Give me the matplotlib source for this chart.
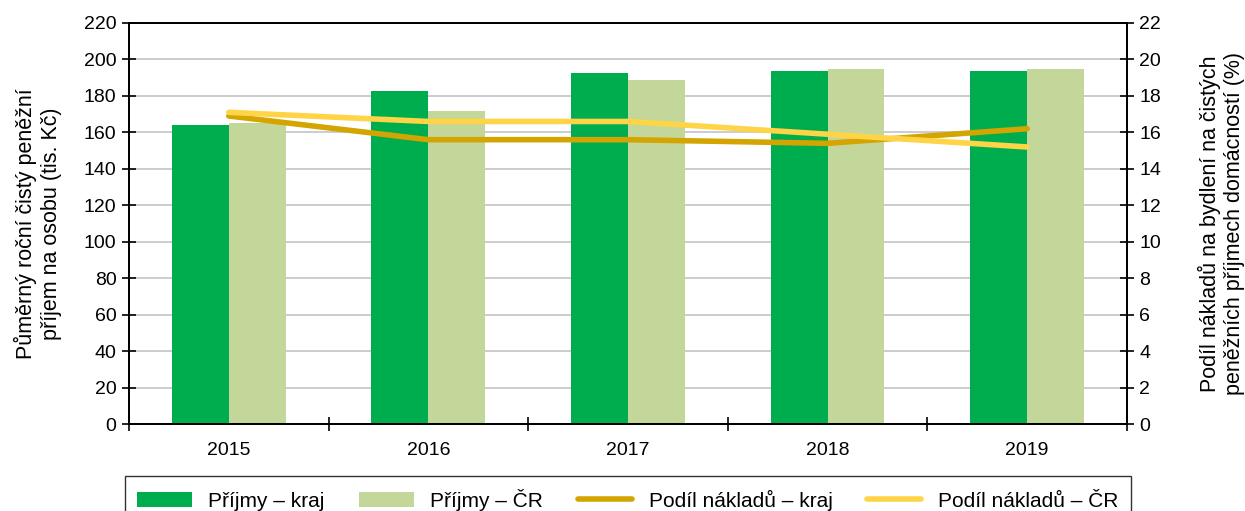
import numpy as np
import matplotlib.pyplot as plt

plt.rcParams['font.family'] = ['Liberation Sans', 'DejaVu Sans']

years = ['2015', '2016', '2017', '2018', '2019']
prijmy_kraj = [164.0, 182.7, 192.5, 193.6, 193.6]
prijmy_cr = [165.0, 172.0, 188.7, 194.7, 194.7]
podil_kraj = [16.9, 15.6, 15.6, 15.4, 16.2]
podil_cr = [17.1, 16.6, 16.6, 15.9, 15.2]

c_kraj = '#00ad4e'
c_cr = '#c4d79b'
l_kraj = '#d4a500'
l_cr = '#ffd446'

fig = plt.figure(figsize=(12.45, 5.11), dpi=100)
ax = fig.add_axes([0.1036, 0.170, 0.8016, 0.785])
x = np.arange(len(years))
w = 0.285

ax.bar(x - w / 2, prijmy_kraj, w, color=c_kraj, label='Příjmy – kraj', zorder=2)
ax.bar(x + w / 2, prijmy_cr, w, color=c_cr, label='Příjmy – ČR', zorder=2)
ax.set_ylim(0, 220)
ax.set_yticks(range(0, 221, 20))
ax.set_xlim(-0.5, len(years) - 0.5)
ax.set_xticks(x)
ax.set_xticklabels(years)
ax.set_xticks(np.arange(-0.5, len(years), 1), minor=True)
ax.tick_params(axis='x', which='major', length=0, pad=13, labelsize=14)
ax.tick_params(axis='x', which='minor', length=10, width=1.2, direction='inout')
ax.tick_params(axis='y', length=10, width=1.2, direction='inout', labelsize=14, pad=4)
ax.grid(axis='y', color='#c8c8c8', linewidth=1.3, zorder=0)
ax.set_axisbelow(True)
for s in ax.spines.values():
    s.set_linewidth(1.3)
ax.set_ylabel('Půměrný roční čistý peněžní\npříjem na osobu (tis. Kč)', fontsize=15.5, labelpad=16)

ax2 = ax.twinx()
ax2.plot(x, podil_kraj, color=l_kraj, linewidth=4, label='Podíl nákladů – kraj', solid_capstyle='round', zorder=3)
ax2.plot(x, podil_cr, color=l_cr, linewidth=4, label='Podíl nákladů – ČR', solid_capstyle='round', zorder=3)
ax2.set_ylim(0, 22)
ax2.set_yticks(range(0, 23, 2))
ax2.tick_params(axis='y', length=10, width=1.2, direction='inout', labelsize=14, pad=4)
ax2.set_ylabel('Podíl nákladů na bydlení na čistých\npeněžních příjmech domácností (%)', fontsize=15.5, labelpad=26)
for s in ax2.spines.values():
    s.set_linewidth(1.3)

h1, lb1 = ax.get_legend_handles_labels()
h2, lb2 = ax2.get_legend_handles_labels()
leg = fig.legend(h1 + h2, lb1 + lb2, loc='upper left', ncol=4, mode='expand',
                 bbox_to_anchor=(0.1004, 0.0, 0.808, 0.068), fontsize=15,
                 frameon=True, fancybox=False, edgecolor='black',
                 handlelength=2.6, handleheight=0.8, borderaxespad=0, borderpad=0.6)
leg.get_frame().set_linewidth(1.0)

fig.savefig('out.png', dpi=100)
